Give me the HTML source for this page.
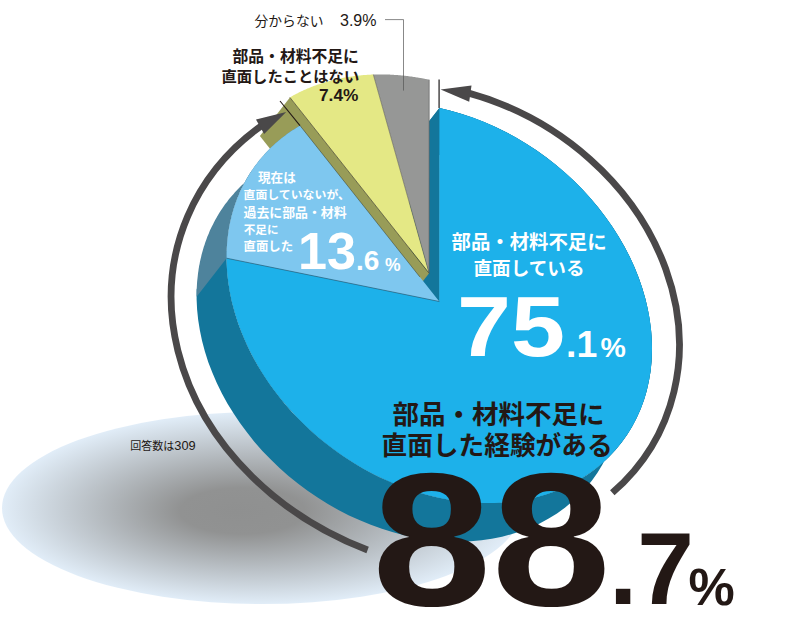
<!DOCTYPE html>
<html lang="ja"><head><meta charset="utf-8"><title>部品・材料不足に直面した経験がある 88.7%</title>
<style>html,body{margin:0;padding:0;background:#fff;font-family:"Liberation Sans",sans-serif}svg{display:block}</style></head>
<body><svg width="800" height="619" viewBox="0 0 800 619" role="img">
<rect width="800" height="619" fill="#fff"/>
<defs><radialGradient id="sh" cx="0.5" cy="0.5" r="0.5" fx="0.45" fy="0.52"><stop offset="0" stop-color="#8f9090"/><stop offset="0.24" stop-color="#919292"/><stop offset="1" stop-color="#e1edf8"/></radialGradient></defs>
<ellipse cx="262" cy="508" rx="260" ry="96" fill="url(#sh)"/>
<g><title>pie</title>
<path fill="#13769b" d="M439.4,108L450.6,110.7L461.8,113.9L472.9,117.7L483.9,121.9L494.8,126.7L505.6,132L516.2,137.7L526.5,143.9L536.6,150.5L546.5,157.6L556,165L565.2,172.9L574.1,181.1L582.6,189.6L590.6,198.5L598.3,207.6L605.5,217L612.3,226.7L618.6,236.5L624.4,246.6L629.7,256.8L634.4,267.1L638.6,277.6L642.2,288.1L645.3,298.6L647.8,309.2L649.7,319.7L651.1,330.2L651.8,340.6L652,350.9L651.6,361.1L650.6,371.1L648.9,380.9L646.8,390.6L644,399.9L640.6,409L636.7,417.8L632.3,426.3L627.3,434.4L621.8,442.2L615.8,449.6L609.3,456.6L602.3,463.1L594.9,469.2L587,474.9L578.7,480L570.1,484.7L561.1,488.9L551.7,492.5L542,495.6L532,498.2L521.8,500.3L511.4,501.7L500.7,502.7L489.9,503.1L478.9,502.9L467.9,502.2L456.7,500.9L445.5,499L434.3,496.7L423.1,493.7L411.9,490.3L400.8,486.3L389.9,481.8L379,476.9L368.4,471.4L357.9,465.5L347.6,459.1L337.6,452.3L327.9,445L318.5,437.4L309.5,429.4L300.8,421L292.4,412.4L284.5,403.4L277.1,394.1L270,384.6L263.5,374.8L257.4,364.9L251.8,354.8L246.8,344.5L242.3,334.1L238.3,323.7L234.9,313.1L232.1,302.6L229.9,292L228.2,281.5L227.1,271L226.6,260.7L226.7,250.4L196.7,288.9L196.6,299.2L197.1,309.5L198.2,320L199.9,330.5L202.1,341.1L204.9,351.6L208.3,362.2L212.3,372.6L216.8,383L221.8,393.3L227.4,403.4L233.5,413.3L240,423.1L247.1,432.6L254.5,441.9L262.4,450.9L270.8,459.5L279.5,467.9L288.5,475.9L297.9,483.5L307.6,490.8L317.6,497.6L327.9,504L338.4,509.9L349,515.4L359.9,520.3L370.8,524.8L381.9,528.8L393.1,532.2L404.3,535.2L415.5,537.5L426.7,539.4L437.9,540.7L448.9,541.4L459.9,541.6L470.7,541.2L481.4,540.2L491.8,538.8L502,536.7L512,534.1L521.7,531L531.1,527.4L540.1,523.2L548.7,518.5L557,513.4L564.9,507.7L572.3,501.6L579.3,495.1L585.8,488.1L591.8,480.7L597.3,472.9L602.3,464.8L606.7,456.3L610.6,447.5L614,438.4L616.8,429.1L618.9,419.4L620.6,409.6L621.6,399.6L622,389.4L621.8,379.1L621.1,368.7L619.7,358.2L617.8,347.7L615.3,337.1L612.2,326.6L608.6,316.1L604.4,305.6L599.7,295.3L594.4,285.1L588.6,275L582.3,265.2L575.5,255.5L568.3,246.1L560.6,237L552.6,228.1L544.1,219.6L535.2,211.4L526,203.5L516.5,196.1L506.6,189L496.5,182.4L486.2,176.2L475.6,170.5L464.8,165.2L453.9,160.4L442.9,156.2L431.8,152.4L420.6,149.2L409.4,146.5Z"/>
<path fill="#13769b" d="M439.4,108L439.3,301.5L409.3,340L409.4,146.5Z"/>
<path fill="#989c58" d="M289.9,97.4L429.1,273.2L399.1,311.7L259.9,135.9Z"/>
<path fill="#13769b" d="M439.3,301.5L439.4,108L450.6,110.7L461.8,113.9L473,117.7L484,122L495,126.8L505.7,132L516.3,137.8L526.7,144L536.8,150.6L546.7,157.7L556.2,165.2L565.4,173.1L574.3,181.3L582.8,189.9L590.9,198.7L598.6,207.9L605.8,217.4L612.6,227L618.8,236.9L624.6,247L629.9,257.2L634.6,267.6L638.8,278.1L642.4,288.6L645.5,299.2L647.9,309.7L649.8,320.3L651.1,330.8L651.9,341.2L652,351.6L651.5,361.8L650.5,371.8L648.8,381.6L646.6,391.2L643.8,400.6L640.4,409.7L636.4,418.5L631.9,427L626.9,435.1L621.3,442.8L615.3,450.2L608.7,457.2L601.7,463.7L594.2,469.8L586.2,475.4L577.9,480.5L569.2,485.1L560.1,489.3L550.7,492.9L541,495.9L531,498.5L520.7,500.4L510.2,501.9L499.5,502.8L488.6,503.1L477.6,502.8L466.5,502L455.3,500.7L444.1,498.8L432.9,496.3L421.6,493.3L410.5,489.8L399.4,485.8L388.4,481.2L377.6,476.1L366.9,470.6L356.4,464.6L346.2,458.1L336.2,451.2L326.5,443.9L317.2,436.2L308.1,428.2L299.5,419.7L291.2,411L283.3,401.9L275.9,392.6L268.9,383L262.4,373.2L256.4,363.2L251,353L246,342.7L241.6,332.3L237.7,321.8L234.4,311.3L231.7,300.7L229.5,290.1L228,279.6L227,269.1L226.6,258.7L226.8,248.5Z"/>
<path fill="#1db1ea" d="M439.3,301.5L439.4,108L450.5,110.7L461.6,113.9L472.6,117.6L483.6,121.8L494.4,126.5L505.1,131.7L515.5,137.3L525.8,143.4L535.9,150L545.6,156.9L555.1,164.3L564.3,172L573.1,180.1L581.6,188.6L589.6,197.3L597.3,206.4L604.5,215.7L611.3,225.2L617.6,234.9L623.4,244.9L628.8,255L633.6,265.2L637.8,275.5L641.5,285.9L644.7,296.4L647.3,306.9L649.4,317.3L650.8,327.7L651.7,338.1L652,348.3L651.7,358.5L650.9,368.4L649.4,378.2L647.4,387.8L644.9,397.2L641.7,406.3L638,415.1L633.8,423.6L629,431.8L623.7,439.6L617.9,447.1L611.6,454.1L604.9,460.8L597.7,467L590,472.8L582,478.1L573.6,482.9L564.7,487.2L555.6,491.1L546.1,494.4L536.4,497.2L526.3,499.4L516.1,501.1L505.6,502.3L494.9,503L484.1,503L473.2,502.6L462.2,501.6L451.1,500L440,497.9L428.8,495.3L417.7,492.2L406.7,488.5L395.8,484.3L384.9,479.6L374.3,474.5L363.8,468.9L353.5,462.8L343.4,456.3L333.6,449.3L324.1,442L314.9,434.3L306.1,426.2L297.6,417.8L289.5,409.1L281.8,400.1L274.5,390.8L267.7,381.3L261.4,371.5L255.5,361.6L250.2,351.5L245.4,341.3L241.1,331L237.3,320.6L234.1,310.1L231.4,299.7L229.4,289.2L227.9,278.8L226.9,268.4L226.6,258.2Z"/>
<path fill="#4e839c" d="M226.6,258.2L226.6,256.3L226.6,254.4L226.6,252.6L226.7,250.7L226.8,248.9L226.9,247L227,245.2L227.1,243.4L227.3,241.5L227.5,239.7L227.7,237.9L227.9,236.1L228.1,234.3L228.4,232.5L228.6,230.7L228.9,228.9L229.2,227.1L229.6,225.4L229.9,223.6L230.3,221.8L230.7,220.1L231.1,218.4L231.5,216.6L231.9,214.9L232.4,213.2L232.9,211.5L233.4,209.8L233.9,208.1L234.5,206.4L235,204.7L235.6,203L236.2,201.4L236.8,199.7L237.4,198.1L238.1,196.5L238.8,194.9L239.4,193.2L240.1,191.6L240.9,190.1L241.6,188.5L242.4,186.9L243.2,185.4L244,183.8L244.8,182.3L245.6,180.7L246.5,179.2L247.3,177.7L248.2,176.2L249.1,174.8L250,173.3L251,171.8L251.9,170.4L252.9,169L253.9,167.5L254.9,166.1L255.9,164.7L257,163.4L258,162L259.1,160.6L260.2,159.3L261.3,158L262.4,156.7L263.6,155.4L264.7,154.1L265.9,152.8L267.1,151.5L268.3,150.3L269.5,149L270.7,147.8L272,146.6L273.2,145.4L274.5,144.3L275.8,143.1L277.1,141.9L278.5,140.8L279.8,139.7L281.2,138.6L282.5,137.5L283.9,136.4L285.3,135.4L286.7,134.3L288.1,133.3L289.6,132.3L291,131.3L292.5,130.3L294,129.4L295.5,128.4L297,127.5L298.5,126.6L300.1,125.7L270.1,164.2L268.5,165.1L267,166L265.5,166.9L264,167.9L262.5,168.8L261,169.8L259.6,170.8L258.1,171.8L256.7,172.8L255.3,173.9L253.9,174.9L252.5,176L251.2,177.1L249.8,178.2L248.5,179.3L247.1,180.4L245.8,181.6L244.5,182.8L243.2,183.9L242,185.1L240.7,186.3L239.5,187.5L238.3,188.8L237.1,190L235.9,191.3L234.7,192.6L233.6,193.9L232.4,195.2L231.3,196.5L230.2,197.8L229.1,199.1L228,200.5L227,201.9L225.9,203.2L224.9,204.6L223.9,206L222.9,207.5L221.9,208.9L221,210.3L220,211.8L219.1,213.3L218.2,214.7L217.3,216.2L216.5,217.7L215.6,219.2L214.8,220.8L214,222.3L213.2,223.9L212.4,225.4L211.6,227L210.9,228.6L210.1,230.1L209.4,231.7L208.8,233.4L208.1,235L207.4,236.6L206.8,238.2L206.2,239.9L205.6,241.5L205,243.2L204.5,244.9L203.9,246.6L203.4,248.3L202.9,250L202.4,251.7L201.9,253.4L201.5,255.1L201.1,256.9L200.7,258.6L200.3,260.3L199.9,262.1L199.6,263.9L199.2,265.6L198.9,267.4L198.6,269.2L198.4,271L198.1,272.8L197.9,274.6L197.7,276.4L197.5,278.2L197.3,280L197.1,281.9L197,283.7L196.9,285.5L196.8,287.4L196.7,289.2L196.6,291.1L196.6,292.9L196.6,294.8L196.6,296.7Z"/>
<path fill="#4e839c" d="M439.3,301.5L226.6,258.2L226.6,257.1L226.6,256L226.6,254.9L226.6,253.8L226.6,252.8L226.7,251.7L226.7,250.6L226.7,249.5L226.8,248.5L226.9,247.4L226.9,246.3L227,245.3L227.1,244.2L227.1,243.1L227.2,242.1L227.3,241L227.4,240L227.5,238.9L227.7,237.9L227.8,236.8L227.9,235.8L228,234.7L228.2,233.7L228.3,232.6L228.5,231.6L228.7,230.6L228.8,229.5L229,228.5L229.2,227.5L229.4,226.4L229.6,225.4L229.8,224.4L230,223.3L230.2,222.3L230.4,221.3L230.6,220.3L230.9,219.3L231.1,218.3L231.3,217.3L231.6,216.3L231.8,215.3L232.1,214.3L232.4,213.3L232.7,212.3L232.9,211.3L233.2,210.3L233.5,209.3L233.8,208.3L234.1,207.4L234.5,206.4L234.8,205.4L235.1,204.4L235.4,203.5L235.8,202.5L236.1,201.5L236.5,200.6L236.8,199.6L237.2,198.7L237.6,197.7L238,196.8L238.3,195.9L238.7,194.9L239.1,194L239.5,193L239.9,192.1L240.4,191.2L240.8,190.3L241.2,189.4L241.6,188.4L242.1,187.5L242.5,186.6L243,185.7L243.4,184.8L243.9,183.9L244.4,183L244.8,182.1L245.3,181.3L245.8,180.4L246.3,179.5L246.8,178.6L247.3,177.8L247.8,176.9L248.3,176L248.9,175.2L249.4,174.3L249.9,173.5L250.5,172.6L251,171.8L251.6,170.9L252.1,170.1Z"/>
<path fill="#7ec7ef" d="M439.3,301.5L226.6,258.2L226.6,256.3L226.6,254.4L226.6,252.6L226.7,250.7L226.8,248.9L226.9,247L227,245.2L227.1,243.4L227.3,241.5L227.5,239.7L227.7,237.9L227.9,236.1L228.1,234.3L228.4,232.5L228.6,230.7L228.9,228.9L229.2,227.1L229.6,225.4L229.9,223.6L230.3,221.8L230.7,220.1L231.1,218.4L231.5,216.6L231.9,214.9L232.4,213.2L232.9,211.5L233.4,209.8L233.9,208.1L234.5,206.4L235,204.7L235.6,203L236.2,201.4L236.8,199.7L237.4,198.1L238.1,196.5L238.8,194.9L239.4,193.2L240.1,191.6L240.9,190.1L241.6,188.5L242.4,186.9L243.2,185.4L244,183.8L244.8,182.3L245.6,180.7L246.5,179.2L247.3,177.7L248.2,176.2L249.1,174.8L250,173.3L251,171.8L251.9,170.4L252.9,169L253.9,167.5L254.9,166.1L255.9,164.7L257,163.4L258,162L259.1,160.6L260.2,159.3L261.3,158L262.4,156.7L263.6,155.4L264.7,154.1L265.9,152.8L267.1,151.5L268.3,150.3L269.5,149L270.7,147.8L272,146.6L273.2,145.4L274.5,144.3L275.8,143.1L277.1,141.9L278.5,140.8L279.8,139.7L281.2,138.6L282.5,137.5L283.9,136.4L285.3,135.4L286.7,134.3L288.1,133.3L289.6,132.3L291,131.3L292.5,130.3L294,129.4L295.5,128.4L297,127.5L298.5,126.6L300.1,125.7Z"/>
<path d="M226.6,258.2L439.3,301.5" stroke="#1b5e7d" stroke-width="0.8" fill="none" opacity="0.8"/>
<path fill="#e4e885" d="M429.1,273.2L289.9,97.4L290.7,96.9L291.5,96.4L292.3,96L293.1,95.5L293.9,95.1L294.7,94.7L295.5,94.2L296.4,93.8L297.2,93.4L298,93L298.9,92.5L299.7,92.1L300.5,91.7L301.4,91.3L302.2,90.9L303.1,90.5L304,90.1L304.8,89.7L305.7,89.4L306.5,89L307.4,88.6L308.3,88.3L309.1,87.9L310,87.5L310.9,87.2L311.8,86.8L312.7,86.5L313.6,86.1L314.5,85.8L315.3,85.5L316.2,85.2L317.1,84.8L318,84.5L319,84.2L319.9,83.9L320.8,83.6L321.7,83.3L322.6,83L323.5,82.7L324.4,82.5L325.4,82.2L326.3,81.9L327.2,81.6L328.1,81.4L329.1,81.1L330,80.9L331,80.6L331.9,80.4L332.8,80.1L333.8,79.9L334.7,79.7L335.7,79.4L336.6,79.2L337.6,79L338.6,78.8L339.5,78.6L340.5,78.4L341.4,78.2L342.4,78L343.4,77.8L344.4,77.6L345.3,77.5L346.3,77.3L347.3,77.1L348.3,77L349.2,76.8L350.2,76.7L351.2,76.5L352.2,76.4L353.2,76.2L354.2,76.1L355.2,76L356.2,75.9L357.2,75.7L358.2,75.6L359.2,75.5L360.2,75.4L361.2,75.3L362.2,75.2L363.2,75.1L364.2,75.1L365.2,75L366.2,74.9L367.2,74.8L368.2,74.8L369.2,74.7L370.3,74.7L371.3,74.6L372.3,74.6L373.3,74.5Z"/>
<path fill="#969796" d="M429.1,273.2L373.3,74.5L373.9,74.5L374.5,74.5L375.1,74.5L375.8,74.5L376.4,74.5L377,74.5L377.6,74.4L378.2,74.4L378.8,74.4L379.4,74.4L380,74.4L380.6,74.4L381.2,74.4L381.9,74.4L382.5,74.4L383.1,74.4L383.7,74.4L384.3,74.5L384.9,74.5L385.5,74.5L386.2,74.5L386.8,74.5L387.4,74.5L388,74.6L388.6,74.6L389.2,74.6L389.9,74.6L390.5,74.7L391.1,74.7L391.7,74.7L392.3,74.7L392.9,74.8L393.6,74.8L394.2,74.9L394.8,74.9L395.4,74.9L396,75L396.7,75L397.3,75.1L397.9,75.1L398.5,75.2L399.1,75.2L399.8,75.3L400.4,75.3L401,75.4L401.6,75.4L402.3,75.5L402.9,75.6L403.5,75.6L404.1,75.7L404.8,75.8L405.4,75.8L406,75.9L406.6,76L407.3,76L407.9,76.1L408.5,76.2L409.1,76.3L409.8,76.4L410.4,76.4L411,76.5L411.6,76.6L412.3,76.7L412.9,76.8L413.5,76.9L414.1,77L414.8,77.1L415.4,77.2L416,77.3L416.6,77.4L417.3,77.5L417.9,77.6L418.5,77.7L419.2,77.8L419.8,77.9L420.4,78L421,78.1L421.7,78.2L422.3,78.3L422.9,78.5L423.5,78.6L424.2,78.7L424.8,78.8L425.4,79L426.1,79.1L426.7,79.2L427.3,79.3L427.9,79.5L428.6,79.6L429.2,79.7Z"/>
<path d="M289.9,97.4L429.1,273.2" stroke="#2b2a18" stroke-width="0.7" fill="none" opacity="0.9"/>
<path d="M300.1,125.7L419.8,276.9" stroke="#2b2a18" stroke-width="0.6" fill="none" opacity="0.75"/>
<path d="M373.3,74.5L429.1,273.2" stroke="#5f5f4a" stroke-width="0.7" fill="none" opacity="0.8"/>
<path d="M429.2,79.7L429.1,273.2" stroke="#5a5b5b" stroke-width="0.8" fill="none" opacity="0.8"/>
</g>
<g><title>88.7% arc</title>
<path d="M467.9,92.9A262.5,223.6 27.3 0 1 612.3,492.8" stroke="#4a4849" stroke-width="6.8" fill="none"/>
<path d="M367.6,550A291.8,243.5 18.3 0 1 262.2,125.2" stroke="#4a4849" stroke-width="6.8" fill="none"/>
<path fill="#4a4849" d="M440.6,89.4L471.5,85.4L469.2,101.8Z"/>
<path fill="#4a4849" d="M286.2,111.9L264.1,133.9L256,119.5Z"/>
<path d="M439.1,79.4V108" stroke="#4a4849" stroke-width="1.5"/>
<path d="M280,101L300,125.6" stroke="#231815" stroke-width="1.1"/>
</g>
<path d="M385,19.6H403.5V90.6" stroke="#555" stroke-width="0.7" fill="none"/>
<g font-family="'Liberation Sans','Noto Sans CJK JP',sans-serif" fill="#231815"><title>分からない 3.9%</title>
<text x="254.5" y="25.6" font-size="13.8">分からない</text>
<text x="340" y="25.8" font-size="16">3.9%</text>
</g>
<g font-family="'Liberation Sans','Noto Sans CJK JP',sans-serif" fill="#231815" font-weight="700"><title>部品・材料不足に直面したことはない 7.4%</title>
<text x="232.5" y="62" font-size="15.8">部品・材料不足に</text>
<text x="221.5" y="81.8" font-size="15.3">直面したことはない</text>
<text x="319" y="100.9" font-size="17.3">7.4%</text>
</g>
<g font-family="'Liberation Sans','Noto Sans CJK JP',sans-serif" fill="#fff" font-weight="700"><title>現在は直面していないが、過去に部品・材料不足に直面した 13.6%</title>
<text x="258" y="182.3" font-size="12.6">現在は</text>
<text x="243.5" y="199.4" font-size="11.9">直面していないが、</text>
<text x="243.5" y="216.6" font-size="12.9">過去に部品・材料</text>
<text x="243.7" y="234" font-size="11.6">不足に</text>
<text x="243.5" y="251.2" font-size="12.4">直面した</text>
<text x="298" y="269" font-size="52" textLength="58" lengthAdjust="spacingAndGlyphs">13</text>
<text x="356" y="270.4" font-size="28">.6</text>
<text x="385" y="271" font-size="17.5">%</text>
</g>
<g font-family="'Liberation Sans','Noto Sans CJK JP',sans-serif" fill="#fff" font-weight="700"><title>部品・材料不足に直面している 75.1%</title>
<text x="451.5" y="249.3" font-size="19.4">部品・材料不足に</text>
<text x="473.5" y="275.3" font-size="18.6">直面している</text>
<text x="457" y="356" font-size="85" textLength="108" lengthAdjust="spacingAndGlyphs">75</text>
<text x="566" y="356.5" font-size="37.5">.1</text>
<text x="600.5" y="357.3" font-size="28.5">%</text>
</g>
<g font-family="'Liberation Sans','Noto Sans CJK JP',sans-serif" fill="#231815" font-weight="700"><title>部品・材料不足に直面した経験がある 88.7%</title>
<text x="392.5" y="423.5" font-size="26.5">部品・材料不足に</text>
<text x="381.5" y="454.5" font-size="25.7">直面した経験がある</text>
<text x="372" y="605" font-size="190" textLength="239" lengthAdjust="spacingAndGlyphs">88</text>
<text x="609" y="603.5" font-size="102">.7</text>
<text x="688.5" y="605" font-size="52">%</text>
</g>
<g font-family="'Liberation Sans','Noto Sans CJK JP',sans-serif" fill="#231815"><title>回答数は309</title>
<text x="130.3" y="450" font-size="11">回答数は<tspan font-size="12.8">309</tspan></text>
</g>
</svg></body></html>
